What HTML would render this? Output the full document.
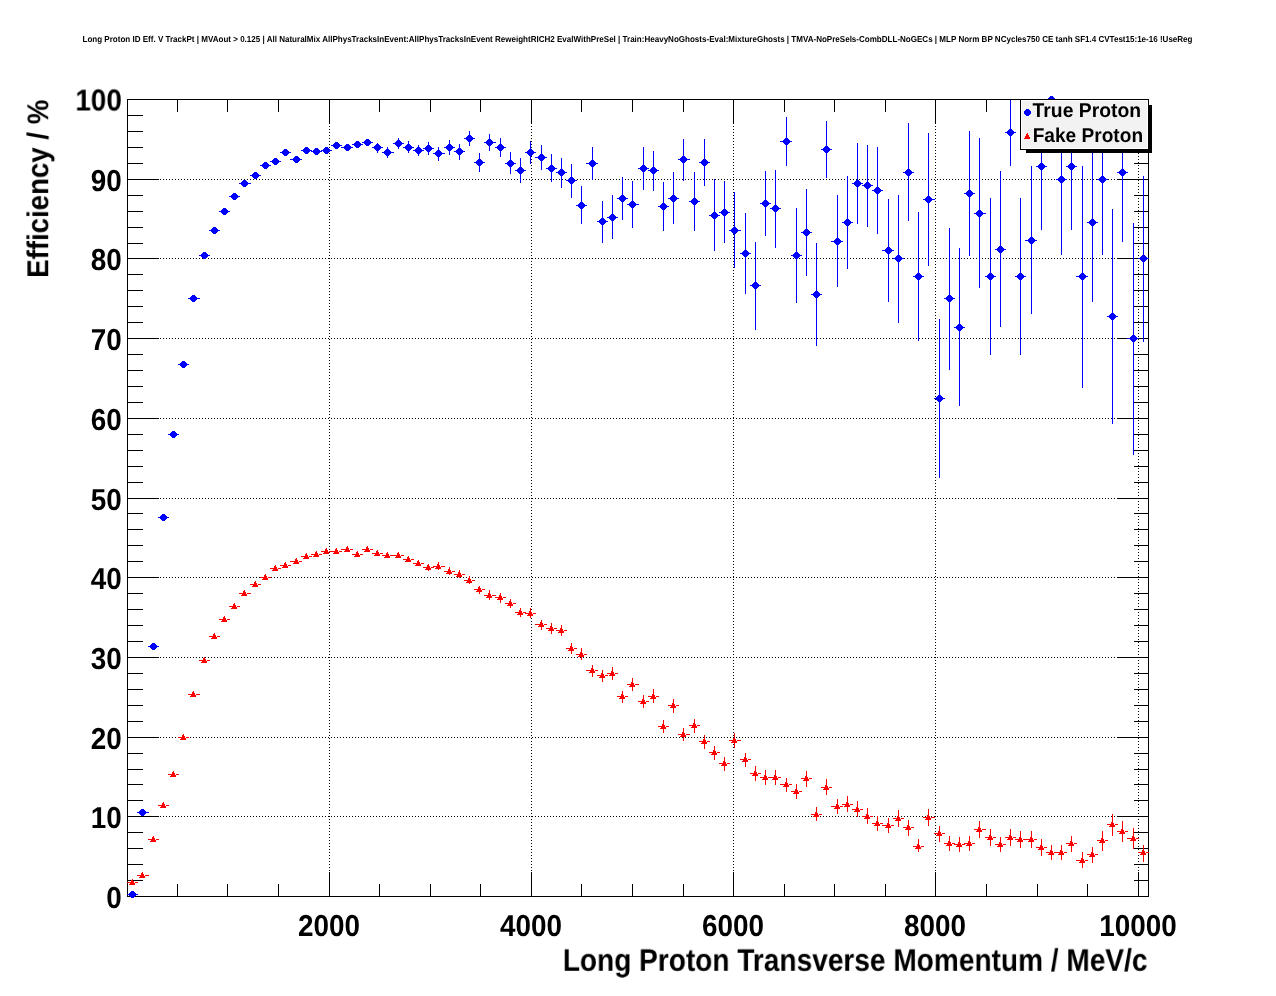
<!DOCTYPE html>
<html><head><meta charset="utf-8"><title>Long Proton ID Eff. V TrackPt</title>
<style>html,body{margin:0;padding:0;background:#fff}svg{display:block;will-change:transform}</style></head>
<body><svg width="1276" height="996" viewBox="0 0 1276 996">
<g shape-rendering="crispEdges" fill="none" stroke-width="1">
<path d="M130 816.5H1148.5M130 737.5H1148.5M130 657.5H1148.5M130 577.5H1148.5M130 498.5H1148.5M130 418.5H1148.5M130 338.5H1148.5M130 258.5H1148.5M130 179.5H1148.5M329.5 102V896.5M531.5 102V896.5M733.5 102V896.5M935.5 102V896.5M1138.5 102V896.5" stroke="#000" stroke-dasharray="1 2"/>
<path d="M127.5 880.5h15M1148.5 880.5h-15M127.5 864.5h15M1148.5 864.5h-15M127.5 848.5h15M1148.5 848.5h-15M127.5 832.5h15M1148.5 832.5h-15M127.5 816.5h31M1148.5 816.5h-31M127.5 800.5h15M1148.5 800.5h-15M127.5 784.5h15M1148.5 784.5h-15M127.5 769.5h15M1148.5 769.5h-15M127.5 753.5h15M1148.5 753.5h-15M127.5 737.5h31M1148.5 737.5h-31M127.5 721.5h15M1148.5 721.5h-15M127.5 705.5h15M1148.5 705.5h-15M127.5 689.5h15M1148.5 689.5h-15M127.5 673.5h15M1148.5 673.5h-15M127.5 657.5h31M1148.5 657.5h-31M127.5 641.5h15M1148.5 641.5h-15M127.5 625.5h15M1148.5 625.5h-15M127.5 609.5h15M1148.5 609.5h-15M127.5 593.5h15M1148.5 593.5h-15M127.5 577.5h31M1148.5 577.5h-31M127.5 561.5h15M1148.5 561.5h-15M127.5 545.5h15M1148.5 545.5h-15M127.5 529.5h15M1148.5 529.5h-15M127.5 513.5h15M1148.5 513.5h-15M127.5 498.5h31M1148.5 498.5h-31M127.5 482.5h15M1148.5 482.5h-15M127.5 466.5h15M1148.5 466.5h-15M127.5 450.5h15M1148.5 450.5h-15M127.5 434.5h15M1148.5 434.5h-15M127.5 418.5h31M1148.5 418.5h-31M127.5 402.5h15M1148.5 402.5h-15M127.5 386.5h15M1148.5 386.5h-15M127.5 370.5h15M1148.5 370.5h-15M127.5 354.5h15M1148.5 354.5h-15M127.5 338.5h31M1148.5 338.5h-31M127.5 322.5h15M1148.5 322.5h-15M127.5 306.5h15M1148.5 306.5h-15M127.5 290.5h15M1148.5 290.5h-15M127.5 274.5h15M1148.5 274.5h-15M127.5 258.5h31M1148.5 258.5h-31M127.5 243.5h15M1148.5 243.5h-15M127.5 227.5h15M1148.5 227.5h-15M127.5 211.5h15M1148.5 211.5h-15M127.5 195.5h15M1148.5 195.5h-15M127.5 179.5h31M1148.5 179.5h-31M127.5 163.5h15M1148.5 163.5h-15M127.5 147.5h15M1148.5 147.5h-15M127.5 131.5h15M1148.5 131.5h-15M127.5 115.5h15M1148.5 115.5h-15M177.5 897.0v-13M177.5 99.5v12M227.5 897.0v-13M227.5 99.5v12M278.5 897.0v-13M278.5 99.5v12M329.5 897.0v-25M329.5 99.5v24M379.5 897.0v-13M379.5 99.5v12M430.5 897.0v-13M430.5 99.5v12M480.5 897.0v-13M480.5 99.5v12M531.5 897.0v-25M531.5 99.5v24M581.5 897.0v-13M581.5 99.5v12M632.5 897.0v-13M632.5 99.5v12M683.5 897.0v-13M683.5 99.5v12M733.5 897.0v-25M733.5 99.5v24M784.5 897.0v-13M784.5 99.5v12M834.5 897.0v-13M834.5 99.5v12M885.5 897.0v-13M885.5 99.5v12M935.5 897.0v-25M935.5 99.5v24M986.5 897.0v-13M986.5 99.5v12M1037.5 897.0v-13M1037.5 99.5v12M1087.5 897.0v-13M1087.5 99.5v12M1138.5 897.0v-25M1138.5 99.5v24" stroke="#000"/>
<rect x="127.5" y="99.5" width="1021.0" height="797.0" stroke="#000"/>
</g>
<g shape-rendering="crispEdges"><path d="M127 894.5h11M137 812.5h12M148 646.5h11M158 517.5h11M168 434.5h11M178 364.5h11M188 298.5h12M199 255.5h11M209 230.5h11M219 211.5h11M229 196.5h11M239 183.5h12M250 175.5h11M260 165.5h11M270 161.5h11M280 152.5h11M290 159.5h12M301 150.5h11M311 151.5h11M321 150.5h11M331 145.5h11M341 147.5h12M352 144.5h11M362 142.5h11M372 147.5h11M377.5 143V153M382 152.5h12M387.5 147V158M393 143.5h11M398.5 138V149M403 147.5h11M408.5 141V153M413 150.5h11M418.5 145V156M423 148.5h11M428.5 142V155M433 153.5h12M438.5 147V161M444 147.5h11M449.5 140V155M454 151.5h11M459.5 144V160M464 138.5h11M469.5 131V146M474 162.5h11M479.5 153V172M484 142.5h12M489.5 134V151M495 147.5h11M500.5 138V157M505 163.5h11M510.5 152V174M515 170.5h11M520.5 158V183M525 152.5h11M530.5 141V164M535 157.5h12M541.5 145V170M546 168.5h11M551.5 154V182M556 172.5h11M561.5 158V188M566 180.5h11M571.5 164V198M576 205.5h11M581.5 186V224M586 163.5h12M592.5 147V180M597 221.5h11M602.5 201V243M607 217.5h11M612.5 195V239M617 198.5h11M622.5 177V220M627 204.5h12M632.5 181V228M638 168.5h11M643.5 147V190M648 170.5h11M653.5 151V191M658 206.5h11M663.5 182V231M668 198.5h11M673.5 172V224M678 159.5h12M683.5 139V181M689 201.5h11M694.5 172V231M699 162.5h11M704.5 139V186M709 215.5h11M714.5 179V251M719 212.5h11M724.5 181V243M729 230.5h12M734.5 192V268M740 253.5h11M745.5 213V294M750 285.5h11M755.5 242V330M760 203.5h11M765.5 171V236M770 208.5h11M775.5 170V248M780 141.5h12M786.5 117V166M791 255.5h11M796.5 208V303M801 232.5h11M806.5 189V276M811 294.5h11M816.5 243V346M821 149.5h11M826.5 121V178M831 241.5h12M837.5 195V287M842 222.5h11M847.5 176V269M852 183.5h11M857.5 143V224M862 185.5h11M867.5 145V227M872 190.5h11M877.5 147V234M882 250.5h12M888.5 199V302M893 258.5h11M898.5 195V323M903 172.5h11M908.5 123V221M913 276.5h11M918.5 212V341M923 199.5h12M928.5 133V266M934 398.5h11M939.5 319V478M944 298.5h11M949.5 228V370M954 327.5h11M959.5 248V406M964 193.5h11M969.5 131V256M974 213.5h12M979.5 138V288M985 276.5h11M990.5 198V355M995 249.5h11M1000.5 171V327M1005 132.5h11M1010.5 100V166M1015 276.5h11M1020.5 198V355M1025 240.5h12M1031.5 166V314M1036 166.5h11M1041.5 103V230M1046 99.5h11M1056 179.5h11M1061.5 104V255M1066 166.5h11M1071.5 103V230M1076 276.5h12M1082.5 166V388M1087 222.5h11M1092.5 143V302M1097 179.5h11M1102.5 104V255M1107 316.5h11M1112.5 209V424M1117 172.5h11M1122.5 103V242M1127 338.5h12M1133.5 223V455M1138 258.5h11M1143.5 176V342" stroke="#0000ff" stroke-width="1" fill="none"/><path d="M131 891h3v1h-3zM130 892h5v1h-5zM129 893h7v1h-7zM129 894h7v1h-7zM129 895h7v1h-7zM130 896h5v1h-5zM131 897h3v1h-3zM141 809h3v1h-3zM140 810h5v1h-5zM139 811h7v1h-7zM139 812h7v1h-7zM139 813h7v1h-7zM140 814h5v1h-5zM141 815h3v1h-3zM152 643h3v1h-3zM151 644h5v1h-5zM150 645h7v1h-7zM150 646h7v1h-7zM150 647h7v1h-7zM151 648h5v1h-5zM152 649h3v1h-3zM162 514h3v1h-3zM161 515h5v1h-5zM160 516h7v1h-7zM160 517h7v1h-7zM160 518h7v1h-7zM161 519h5v1h-5zM162 520h3v1h-3zM172 431h3v1h-3zM171 432h5v1h-5zM170 433h7v1h-7zM170 434h7v1h-7zM170 435h7v1h-7zM171 436h5v1h-5zM172 437h3v1h-3zM182 361h3v1h-3zM181 362h5v1h-5zM180 363h7v1h-7zM180 364h7v1h-7zM180 365h7v1h-7zM181 366h5v1h-5zM182 367h3v1h-3zM192 295h3v1h-3zM191 296h5v1h-5zM190 297h7v1h-7zM190 298h7v1h-7zM190 299h7v1h-7zM191 300h5v1h-5zM192 301h3v1h-3zM203 252h3v1h-3zM202 253h5v1h-5zM201 254h7v1h-7zM201 255h7v1h-7zM201 256h7v1h-7zM202 257h5v1h-5zM203 258h3v1h-3zM213 227h3v1h-3zM212 228h5v1h-5zM211 229h7v1h-7zM211 230h7v1h-7zM211 231h7v1h-7zM212 232h5v1h-5zM213 233h3v1h-3zM223 208h3v1h-3zM222 209h5v1h-5zM221 210h7v1h-7zM221 211h7v1h-7zM221 212h7v1h-7zM222 213h5v1h-5zM223 214h3v1h-3zM233 193h3v1h-3zM232 194h5v1h-5zM231 195h7v1h-7zM231 196h7v1h-7zM231 197h7v1h-7zM232 198h5v1h-5zM233 199h3v1h-3zM243 180h3v1h-3zM242 181h5v1h-5zM241 182h7v1h-7zM241 183h7v1h-7zM241 184h7v1h-7zM242 185h5v1h-5zM243 186h3v1h-3zM254 172h3v1h-3zM253 173h5v1h-5zM252 174h7v1h-7zM252 175h7v1h-7zM252 176h7v1h-7zM253 177h5v1h-5zM254 178h3v1h-3zM264 162h3v1h-3zM263 163h5v1h-5zM262 164h7v1h-7zM262 165h7v1h-7zM262 166h7v1h-7zM263 167h5v1h-5zM264 168h3v1h-3zM274 158h3v1h-3zM273 159h5v1h-5zM272 160h7v1h-7zM272 161h7v1h-7zM272 162h7v1h-7zM273 163h5v1h-5zM274 164h3v1h-3zM284 149h3v1h-3zM283 150h5v1h-5zM282 151h7v1h-7zM282 152h7v1h-7zM282 153h7v1h-7zM283 154h5v1h-5zM284 155h3v1h-3zM295 156h3v1h-3zM294 157h5v1h-5zM293 158h7v1h-7zM293 159h7v1h-7zM293 160h7v1h-7zM294 161h5v1h-5zM295 162h3v1h-3zM305 147h3v1h-3zM304 148h5v1h-5zM303 149h7v1h-7zM303 150h7v1h-7zM303 151h7v1h-7zM304 152h5v1h-5zM305 153h3v1h-3zM315 148h3v1h-3zM314 149h5v1h-5zM313 150h7v1h-7zM313 151h7v1h-7zM313 152h7v1h-7zM314 153h5v1h-5zM315 154h3v1h-3zM325 147h3v1h-3zM324 148h5v1h-5zM323 149h7v1h-7zM323 150h7v1h-7zM323 151h7v1h-7zM324 152h5v1h-5zM325 153h3v1h-3zM335 142h3v1h-3zM334 143h5v1h-5zM333 144h7v1h-7zM333 145h7v1h-7zM333 146h7v1h-7zM334 147h5v1h-5zM335 148h3v1h-3zM346 144h3v1h-3zM345 145h5v1h-5zM344 146h7v1h-7zM344 147h7v1h-7zM344 148h7v1h-7zM345 149h5v1h-5zM346 150h3v1h-3zM356 141h3v1h-3zM355 142h5v1h-5zM354 143h7v1h-7zM354 144h7v1h-7zM354 145h7v1h-7zM355 146h5v1h-5zM356 147h3v1h-3zM366 139h3v1h-3zM365 140h5v1h-5zM364 141h7v1h-7zM364 142h7v1h-7zM364 143h7v1h-7zM365 144h5v1h-5zM366 145h3v1h-3zM376 144h3v1h-3zM375 145h5v1h-5zM374 146h7v1h-7zM374 147h7v1h-7zM374 148h7v1h-7zM375 149h5v1h-5zM376 150h3v1h-3zM386 149h3v1h-3zM385 150h5v1h-5zM384 151h7v1h-7zM384 152h7v1h-7zM384 153h7v1h-7zM385 154h5v1h-5zM386 155h3v1h-3zM397 140h3v1h-3zM396 141h5v1h-5zM395 142h7v1h-7zM395 143h7v1h-7zM395 144h7v1h-7zM396 145h5v1h-5zM397 146h3v1h-3zM407 144h3v1h-3zM406 145h5v1h-5zM405 146h7v1h-7zM405 147h7v1h-7zM405 148h7v1h-7zM406 149h5v1h-5zM407 150h3v1h-3zM417 147h3v1h-3zM416 148h5v1h-5zM415 149h7v1h-7zM415 150h7v1h-7zM415 151h7v1h-7zM416 152h5v1h-5zM417 153h3v1h-3zM427 145h3v1h-3zM426 146h5v1h-5zM425 147h7v1h-7zM425 148h7v1h-7zM425 149h7v1h-7zM426 150h5v1h-5zM427 151h3v1h-3zM437 150h3v1h-3zM436 151h5v1h-5zM435 152h7v1h-7zM435 153h7v1h-7zM435 154h7v1h-7zM436 155h5v1h-5zM437 156h3v1h-3zM448 144h3v1h-3zM447 145h5v1h-5zM446 146h7v1h-7zM446 147h7v1h-7zM446 148h7v1h-7zM447 149h5v1h-5zM448 150h3v1h-3zM458 148h3v1h-3zM457 149h5v1h-5zM456 150h7v1h-7zM456 151h7v1h-7zM456 152h7v1h-7zM457 153h5v1h-5zM458 154h3v1h-3zM468 135h3v1h-3zM467 136h5v1h-5zM466 137h7v1h-7zM466 138h7v1h-7zM466 139h7v1h-7zM467 140h5v1h-5zM468 141h3v1h-3zM478 159h3v1h-3zM477 160h5v1h-5zM476 161h7v1h-7zM476 162h7v1h-7zM476 163h7v1h-7zM477 164h5v1h-5zM478 165h3v1h-3zM488 139h3v1h-3zM487 140h5v1h-5zM486 141h7v1h-7zM486 142h7v1h-7zM486 143h7v1h-7zM487 144h5v1h-5zM488 145h3v1h-3zM499 144h3v1h-3zM498 145h5v1h-5zM497 146h7v1h-7zM497 147h7v1h-7zM497 148h7v1h-7zM498 149h5v1h-5zM499 150h3v1h-3zM509 160h3v1h-3zM508 161h5v1h-5zM507 162h7v1h-7zM507 163h7v1h-7zM507 164h7v1h-7zM508 165h5v1h-5zM509 166h3v1h-3zM519 167h3v1h-3zM518 168h5v1h-5zM517 169h7v1h-7zM517 170h7v1h-7zM517 171h7v1h-7zM518 172h5v1h-5zM519 173h3v1h-3zM529 149h3v1h-3zM528 150h5v1h-5zM527 151h7v1h-7zM527 152h7v1h-7zM527 153h7v1h-7zM528 154h5v1h-5zM529 155h3v1h-3zM540 154h3v1h-3zM539 155h5v1h-5zM538 156h7v1h-7zM538 157h7v1h-7zM538 158h7v1h-7zM539 159h5v1h-5zM540 160h3v1h-3zM550 165h3v1h-3zM549 166h5v1h-5zM548 167h7v1h-7zM548 168h7v1h-7zM548 169h7v1h-7zM549 170h5v1h-5zM550 171h3v1h-3zM560 169h3v1h-3zM559 170h5v1h-5zM558 171h7v1h-7zM558 172h7v1h-7zM558 173h7v1h-7zM559 174h5v1h-5zM560 175h3v1h-3zM570 177h3v1h-3zM569 178h5v1h-5zM568 179h7v1h-7zM568 180h7v1h-7zM568 181h7v1h-7zM569 182h5v1h-5zM570 183h3v1h-3zM580 202h3v1h-3zM579 203h5v1h-5zM578 204h7v1h-7zM578 205h7v1h-7zM578 206h7v1h-7zM579 207h5v1h-5zM580 208h3v1h-3zM591 160h3v1h-3zM590 161h5v1h-5zM589 162h7v1h-7zM589 163h7v1h-7zM589 164h7v1h-7zM590 165h5v1h-5zM591 166h3v1h-3zM601 218h3v1h-3zM600 219h5v1h-5zM599 220h7v1h-7zM599 221h7v1h-7zM599 222h7v1h-7zM600 223h5v1h-5zM601 224h3v1h-3zM611 214h3v1h-3zM610 215h5v1h-5zM609 216h7v1h-7zM609 217h7v1h-7zM609 218h7v1h-7zM610 219h5v1h-5zM611 220h3v1h-3zM621 195h3v1h-3zM620 196h5v1h-5zM619 197h7v1h-7zM619 198h7v1h-7zM619 199h7v1h-7zM620 200h5v1h-5zM621 201h3v1h-3zM631 201h3v1h-3zM630 202h5v1h-5zM629 203h7v1h-7zM629 204h7v1h-7zM629 205h7v1h-7zM630 206h5v1h-5zM631 207h3v1h-3zM642 165h3v1h-3zM641 166h5v1h-5zM640 167h7v1h-7zM640 168h7v1h-7zM640 169h7v1h-7zM641 170h5v1h-5zM642 171h3v1h-3zM652 167h3v1h-3zM651 168h5v1h-5zM650 169h7v1h-7zM650 170h7v1h-7zM650 171h7v1h-7zM651 172h5v1h-5zM652 173h3v1h-3zM662 203h3v1h-3zM661 204h5v1h-5zM660 205h7v1h-7zM660 206h7v1h-7zM660 207h7v1h-7zM661 208h5v1h-5zM662 209h3v1h-3zM672 195h3v1h-3zM671 196h5v1h-5zM670 197h7v1h-7zM670 198h7v1h-7zM670 199h7v1h-7zM671 200h5v1h-5zM672 201h3v1h-3zM682 156h3v1h-3zM681 157h5v1h-5zM680 158h7v1h-7zM680 159h7v1h-7zM680 160h7v1h-7zM681 161h5v1h-5zM682 162h3v1h-3zM693 198h3v1h-3zM692 199h5v1h-5zM691 200h7v1h-7zM691 201h7v1h-7zM691 202h7v1h-7zM692 203h5v1h-5zM693 204h3v1h-3zM703 159h3v1h-3zM702 160h5v1h-5zM701 161h7v1h-7zM701 162h7v1h-7zM701 163h7v1h-7zM702 164h5v1h-5zM703 165h3v1h-3zM713 212h3v1h-3zM712 213h5v1h-5zM711 214h7v1h-7zM711 215h7v1h-7zM711 216h7v1h-7zM712 217h5v1h-5zM713 218h3v1h-3zM723 209h3v1h-3zM722 210h5v1h-5zM721 211h7v1h-7zM721 212h7v1h-7zM721 213h7v1h-7zM722 214h5v1h-5zM723 215h3v1h-3zM733 227h3v1h-3zM732 228h5v1h-5zM731 229h7v1h-7zM731 230h7v1h-7zM731 231h7v1h-7zM732 232h5v1h-5zM733 233h3v1h-3zM744 250h3v1h-3zM743 251h5v1h-5zM742 252h7v1h-7zM742 253h7v1h-7zM742 254h7v1h-7zM743 255h5v1h-5zM744 256h3v1h-3zM754 282h3v1h-3zM753 283h5v1h-5zM752 284h7v1h-7zM752 285h7v1h-7zM752 286h7v1h-7zM753 287h5v1h-5zM754 288h3v1h-3zM764 200h3v1h-3zM763 201h5v1h-5zM762 202h7v1h-7zM762 203h7v1h-7zM762 204h7v1h-7zM763 205h5v1h-5zM764 206h3v1h-3zM774 205h3v1h-3zM773 206h5v1h-5zM772 207h7v1h-7zM772 208h7v1h-7zM772 209h7v1h-7zM773 210h5v1h-5zM774 211h3v1h-3zM785 138h3v1h-3zM784 139h5v1h-5zM783 140h7v1h-7zM783 141h7v1h-7zM783 142h7v1h-7zM784 143h5v1h-5zM785 144h3v1h-3zM795 252h3v1h-3zM794 253h5v1h-5zM793 254h7v1h-7zM793 255h7v1h-7zM793 256h7v1h-7zM794 257h5v1h-5zM795 258h3v1h-3zM805 229h3v1h-3zM804 230h5v1h-5zM803 231h7v1h-7zM803 232h7v1h-7zM803 233h7v1h-7zM804 234h5v1h-5zM805 235h3v1h-3zM815 291h3v1h-3zM814 292h5v1h-5zM813 293h7v1h-7zM813 294h7v1h-7zM813 295h7v1h-7zM814 296h5v1h-5zM815 297h3v1h-3zM825 146h3v1h-3zM824 147h5v1h-5zM823 148h7v1h-7zM823 149h7v1h-7zM823 150h7v1h-7zM824 151h5v1h-5zM825 152h3v1h-3zM836 238h3v1h-3zM835 239h5v1h-5zM834 240h7v1h-7zM834 241h7v1h-7zM834 242h7v1h-7zM835 243h5v1h-5zM836 244h3v1h-3zM846 219h3v1h-3zM845 220h5v1h-5zM844 221h7v1h-7zM844 222h7v1h-7zM844 223h7v1h-7zM845 224h5v1h-5zM846 225h3v1h-3zM856 180h3v1h-3zM855 181h5v1h-5zM854 182h7v1h-7zM854 183h7v1h-7zM854 184h7v1h-7zM855 185h5v1h-5zM856 186h3v1h-3zM866 182h3v1h-3zM865 183h5v1h-5zM864 184h7v1h-7zM864 185h7v1h-7zM864 186h7v1h-7zM865 187h5v1h-5zM866 188h3v1h-3zM876 187h3v1h-3zM875 188h5v1h-5zM874 189h7v1h-7zM874 190h7v1h-7zM874 191h7v1h-7zM875 192h5v1h-5zM876 193h3v1h-3zM887 247h3v1h-3zM886 248h5v1h-5zM885 249h7v1h-7zM885 250h7v1h-7zM885 251h7v1h-7zM886 252h5v1h-5zM887 253h3v1h-3zM897 255h3v1h-3zM896 256h5v1h-5zM895 257h7v1h-7zM895 258h7v1h-7zM895 259h7v1h-7zM896 260h5v1h-5zM897 261h3v1h-3zM907 169h3v1h-3zM906 170h5v1h-5zM905 171h7v1h-7zM905 172h7v1h-7zM905 173h7v1h-7zM906 174h5v1h-5zM907 175h3v1h-3zM917 273h3v1h-3zM916 274h5v1h-5zM915 275h7v1h-7zM915 276h7v1h-7zM915 277h7v1h-7zM916 278h5v1h-5zM917 279h3v1h-3zM927 196h3v1h-3zM926 197h5v1h-5zM925 198h7v1h-7zM925 199h7v1h-7zM925 200h7v1h-7zM926 201h5v1h-5zM927 202h3v1h-3zM938 395h3v1h-3zM937 396h5v1h-5zM936 397h7v1h-7zM936 398h7v1h-7zM936 399h7v1h-7zM937 400h5v1h-5zM938 401h3v1h-3zM948 295h3v1h-3zM947 296h5v1h-5zM946 297h7v1h-7zM946 298h7v1h-7zM946 299h7v1h-7zM947 300h5v1h-5zM948 301h3v1h-3zM958 324h3v1h-3zM957 325h5v1h-5zM956 326h7v1h-7zM956 327h7v1h-7zM956 328h7v1h-7zM957 329h5v1h-5zM958 330h3v1h-3zM968 190h3v1h-3zM967 191h5v1h-5zM966 192h7v1h-7zM966 193h7v1h-7zM966 194h7v1h-7zM967 195h5v1h-5zM968 196h3v1h-3zM978 210h3v1h-3zM977 211h5v1h-5zM976 212h7v1h-7zM976 213h7v1h-7zM976 214h7v1h-7zM977 215h5v1h-5zM978 216h3v1h-3zM989 273h3v1h-3zM988 274h5v1h-5zM987 275h7v1h-7zM987 276h7v1h-7zM987 277h7v1h-7zM988 278h5v1h-5zM989 279h3v1h-3zM999 246h3v1h-3zM998 247h5v1h-5zM997 248h7v1h-7zM997 249h7v1h-7zM997 250h7v1h-7zM998 251h5v1h-5zM999 252h3v1h-3zM1009 129h3v1h-3zM1008 130h5v1h-5zM1007 131h7v1h-7zM1007 132h7v1h-7zM1007 133h7v1h-7zM1008 134h5v1h-5zM1009 135h3v1h-3zM1019 273h3v1h-3zM1018 274h5v1h-5zM1017 275h7v1h-7zM1017 276h7v1h-7zM1017 277h7v1h-7zM1018 278h5v1h-5zM1019 279h3v1h-3zM1030 237h3v1h-3zM1029 238h5v1h-5zM1028 239h7v1h-7zM1028 240h7v1h-7zM1028 241h7v1h-7zM1029 242h5v1h-5zM1030 243h3v1h-3zM1040 163h3v1h-3zM1039 164h5v1h-5zM1038 165h7v1h-7zM1038 166h7v1h-7zM1038 167h7v1h-7zM1039 168h5v1h-5zM1040 169h3v1h-3zM1050 96h3v1h-3zM1049 97h5v1h-5zM1048 98h7v1h-7zM1048 99h7v1h-7zM1048 100h7v1h-7zM1049 101h5v1h-5zM1050 102h3v1h-3zM1060 176h3v1h-3zM1059 177h5v1h-5zM1058 178h7v1h-7zM1058 179h7v1h-7zM1058 180h7v1h-7zM1059 181h5v1h-5zM1060 182h3v1h-3zM1070 163h3v1h-3zM1069 164h5v1h-5zM1068 165h7v1h-7zM1068 166h7v1h-7zM1068 167h7v1h-7zM1069 168h5v1h-5zM1070 169h3v1h-3zM1081 273h3v1h-3zM1080 274h5v1h-5zM1079 275h7v1h-7zM1079 276h7v1h-7zM1079 277h7v1h-7zM1080 278h5v1h-5zM1081 279h3v1h-3zM1091 219h3v1h-3zM1090 220h5v1h-5zM1089 221h7v1h-7zM1089 222h7v1h-7zM1089 223h7v1h-7zM1090 224h5v1h-5zM1091 225h3v1h-3zM1101 176h3v1h-3zM1100 177h5v1h-5zM1099 178h7v1h-7zM1099 179h7v1h-7zM1099 180h7v1h-7zM1100 181h5v1h-5zM1101 182h3v1h-3zM1111 313h3v1h-3zM1110 314h5v1h-5zM1109 315h7v1h-7zM1109 316h7v1h-7zM1109 317h7v1h-7zM1110 318h5v1h-5zM1111 319h3v1h-3zM1121 169h3v1h-3zM1120 170h5v1h-5zM1119 171h7v1h-7zM1119 172h7v1h-7zM1119 173h7v1h-7zM1120 174h5v1h-5zM1121 175h3v1h-3zM1132 335h3v1h-3zM1131 336h5v1h-5zM1130 337h7v1h-7zM1130 338h7v1h-7zM1130 339h7v1h-7zM1131 340h5v1h-5zM1132 341h3v1h-3zM1142 255h3v1h-3zM1141 256h5v1h-5zM1140 257h7v1h-7zM1140 258h7v1h-7zM1140 259h7v1h-7zM1141 260h5v1h-5zM1142 261h3v1h-3z" fill="#0000ff"/></g>
<g shape-rendering="crispEdges"><path d="M127 882.5H134M135 882.5H138M137 875.5H144M145 875.5H149M148 839.5H155M156 839.5H159M158 805.5H165M166 805.5H169M168 774.5H175M176 774.5H179M178 737.5H185M186 737.5H189M188 694.5H195M196 694.5H200M199 660.5H206M207 660.5H210M209 636.5H216M217 636.5H220M219 619.5H226M227 619.5H230M229 606.5H236M237 606.5H240M239 593.5H246M247 593.5H251M250 584.5H257M258 584.5H261M260 577.5H267M268 577.5H271M270 568.5H277M278 568.5H281M280 565.5H287M288 565.5H291M290 561.5H298M299 561.5H302M301 556.5H308M309 556.5H312M311 554.5H318M319 554.5H322M321 551.5H328M329 551.5H332M331 551.5H338M339 551.5H342M341 549.5H349M350 549.5H353M352 554.5H359M360 554.5H363M362 549.5H369M370 549.5H373M372 553.5H379M380 553.5H383M382 555.5H389M390 555.5H394M393 555.5H400M401 555.5H404M403 559.5H410M411 559.5H414M413 563.5H420M421 563.5H424M423 567.5H430M431 567.5H434M428.5 564V571M433 566.5H440M441 566.5H445M438.5 562V570M444 571.5H451M452 571.5H455M449.5 567V575M454 574.5H461M462 574.5H465M459.5 570V578M464 580.5H471M472 580.5H475M469.5 576V584M474 589.5H481M482 589.5H485M479.5 586V594M484 595.5H491M492 595.5H496M489.5 590V600M495 597.5H502M503 597.5H506M500.5 593V603M505 603.5H512M513 603.5H516M510.5 599V608M515 612.5H522M523 612.5H526M520.5 608V617M525 613.5H532M533 613.5H536M530.5 608V618M535 624.5H543M544 624.5H547M541.5 620V630M546 628.5H553M554 628.5H557M551.5 623V634M556 630.5H563M564 630.5H567M561.5 625V636M566 648.5H573M574 648.5H577M571.5 643V654M576 654.5H583M584 654.5H587M581.5 648V660M586 670.5H594M595 670.5H598M592.5 665V677M597 675.5H604M605 675.5H608M602.5 670V682M607 673.5H614M615 673.5H618M612.5 667V680M617 696.5H624M625 696.5H628M622.5 691V703M627 684.5H634M635 684.5H639M632.5 678V691M638 701.5H645M646 701.5H649M643.5 695V708M648 696.5H655M656 696.5H659M653.5 689V703M658 726.5H665M666 726.5H669M663.5 720V733M668 705.5H675M676 705.5H679M673.5 699V713M678 734.5H685M686 734.5H690M683.5 728V741M689 725.5H696M697 725.5H700M694.5 719V733M699 741.5H706M707 741.5H710M704.5 735V749M709 752.5H716M717 752.5H720M714.5 746V760M719 763.5H726M727 763.5H730M724.5 757V771M729 740.5H736M737 740.5H741M734.5 733V748M740 759.5H747M748 759.5H751M745.5 753V767M750 773.5H757M758 773.5H761M755.5 766V781M760 777.5H767M768 777.5H771M765.5 770V785M770 777.5H777M778 777.5H781M775.5 770V785M780 784.5H788M789 784.5H792M786.5 778V792M791 791.5H798M799 791.5H802M796.5 784V799M801 778.5H808M809 778.5H812M806.5 771V787M811 814.5H818M819 814.5H822M816.5 807V821M821 787.5H828M829 787.5H832M826.5 779V795M831 806.5H839M840 806.5H843M837.5 799V814M842 804.5H849M850 804.5H853M847.5 796V812M852 809.5H859M860 809.5H863M857.5 801V817M862 816.5H869M870 816.5H873M867.5 808V824M872 823.5H879M880 823.5H883M877.5 816V831M882 825.5H890M891 825.5H894M888.5 818V833M893 818.5H900M901 818.5H904M898.5 810V827M903 827.5H910M911 827.5H914M908.5 820V836M913 846.5H920M921 846.5H924M918.5 839V852M923 817.5H930M931 817.5H935M928.5 809V826M934 833.5H941M942 833.5H945M939.5 826V842M944 843.5H951M952 843.5H955M949.5 836V851M954 844.5H961M962 844.5H965M959.5 837V852M964 843.5H971M972 843.5H975M969.5 836V851M974 829.5H981M982 829.5H986M979.5 821V838M985 837.5H992M993 837.5H996M990.5 829V846M995 844.5H1002M1003 844.5H1006M1000.5 837V852M1005 837.5H1012M1013 837.5H1016M1010.5 829V846M1015 839.5H1022M1023 839.5H1026M1020.5 831V848M1025 839.5H1033M1034 839.5H1037M1031.5 831V848M1036 847.5H1043M1044 847.5H1047M1041.5 839V856M1046 852.5H1053M1054 852.5H1057M1051.5 845V860M1056 852.5H1063M1064 852.5H1067M1061.5 845V860M1066 843.5H1073M1074 843.5H1077M1071.5 836V852M1076 860.5H1084M1085 860.5H1088M1082.5 852V868M1087 854.5H1094M1095 854.5H1098M1092.5 847V863M1097 840.5H1104M1105 840.5H1108M1102.5 831V851M1107 824.5H1114M1115 824.5H1118M1112.5 814V836M1117 831.5H1124M1125 831.5H1128M1122.5 821V842M1127 838.5H1135M1136 838.5H1139M1133.5 828V849M1138 852.5H1145M1146 852.5H1149M1143.5 845V862" stroke="#ff0000" stroke-width="1" fill="none"/><path d="M132 879h1v1h-1zM131 880h2v1h-2zM131 881h3v1h-3zM130 882h4v1h-4zM130 883h5v1h-5zM129 884h6v1h-6zM142 872h1v1h-1zM141 873h2v1h-2zM141 874h3v1h-3zM140 875h4v1h-4zM140 876h5v1h-5zM139 877h6v1h-6zM153 836h1v1h-1zM152 837h2v1h-2zM152 838h3v1h-3zM151 839h4v1h-4zM151 840h5v1h-5zM150 841h6v1h-6zM163 802h1v1h-1zM162 803h2v1h-2zM162 804h3v1h-3zM161 805h4v1h-4zM161 806h5v1h-5zM160 807h6v1h-6zM173 771h1v1h-1zM172 772h2v1h-2zM172 773h3v1h-3zM171 774h4v1h-4zM171 775h5v1h-5zM170 776h6v1h-6zM183 734h1v1h-1zM182 735h2v1h-2zM182 736h3v1h-3zM181 737h4v1h-4zM181 738h5v1h-5zM180 739h6v1h-6zM193 691h1v1h-1zM192 692h2v1h-2zM192 693h3v1h-3zM191 694h4v1h-4zM191 695h5v1h-5zM190 696h6v1h-6zM204 657h1v1h-1zM203 658h2v1h-2zM203 659h3v1h-3zM202 660h4v1h-4zM202 661h5v1h-5zM201 662h6v1h-6zM214 633h1v1h-1zM213 634h2v1h-2zM213 635h3v1h-3zM212 636h4v1h-4zM212 637h5v1h-5zM211 638h6v1h-6zM224 616h1v1h-1zM223 617h2v1h-2zM223 618h3v1h-3zM222 619h4v1h-4zM222 620h5v1h-5zM221 621h6v1h-6zM234 603h1v1h-1zM233 604h2v1h-2zM233 605h3v1h-3zM232 606h4v1h-4zM232 607h5v1h-5zM231 608h6v1h-6zM244 590h1v1h-1zM243 591h2v1h-2zM243 592h3v1h-3zM242 593h4v1h-4zM242 594h5v1h-5zM241 595h6v1h-6zM255 581h1v1h-1zM254 582h2v1h-2zM254 583h3v1h-3zM253 584h4v1h-4zM253 585h5v1h-5zM252 586h6v1h-6zM265 574h1v1h-1zM264 575h2v1h-2zM264 576h3v1h-3zM263 577h4v1h-4zM263 578h5v1h-5zM262 579h6v1h-6zM275 565h1v1h-1zM274 566h2v1h-2zM274 567h3v1h-3zM273 568h4v1h-4zM273 569h5v1h-5zM272 570h6v1h-6zM285 562h1v1h-1zM284 563h2v1h-2zM284 564h3v1h-3zM283 565h4v1h-4zM283 566h5v1h-5zM282 567h6v1h-6zM296 558h1v1h-1zM295 559h2v1h-2zM295 560h3v1h-3zM294 561h4v1h-4zM294 562h5v1h-5zM293 563h6v1h-6zM306 553h1v1h-1zM305 554h2v1h-2zM305 555h3v1h-3zM304 556h4v1h-4zM304 557h5v1h-5zM303 558h6v1h-6zM316 551h1v1h-1zM315 552h2v1h-2zM315 553h3v1h-3zM314 554h4v1h-4zM314 555h5v1h-5zM313 556h6v1h-6zM326 548h1v1h-1zM325 549h2v1h-2zM325 550h3v1h-3zM324 551h4v1h-4zM324 552h5v1h-5zM323 553h6v1h-6zM336 548h1v1h-1zM335 549h2v1h-2zM335 550h3v1h-3zM334 551h4v1h-4zM334 552h5v1h-5zM333 553h6v1h-6zM347 546h1v1h-1zM346 547h2v1h-2zM346 548h3v1h-3zM345 549h4v1h-4zM345 550h5v1h-5zM344 551h6v1h-6zM357 551h1v1h-1zM356 552h2v1h-2zM356 553h3v1h-3zM355 554h4v1h-4zM355 555h5v1h-5zM354 556h6v1h-6zM367 546h1v1h-1zM366 547h2v1h-2zM366 548h3v1h-3zM365 549h4v1h-4zM365 550h5v1h-5zM364 551h6v1h-6zM377 550h1v1h-1zM376 551h2v1h-2zM376 552h3v1h-3zM375 553h4v1h-4zM375 554h5v1h-5zM374 555h6v1h-6zM387 552h1v1h-1zM386 553h2v1h-2zM386 554h3v1h-3zM385 555h4v1h-4zM385 556h5v1h-5zM384 557h6v1h-6zM398 552h1v1h-1zM397 553h2v1h-2zM397 554h3v1h-3zM396 555h4v1h-4zM396 556h5v1h-5zM395 557h6v1h-6zM408 556h1v1h-1zM407 557h2v1h-2zM407 558h3v1h-3zM406 559h4v1h-4zM406 560h5v1h-5zM405 561h6v1h-6zM418 560h1v1h-1zM417 561h2v1h-2zM417 562h3v1h-3zM416 563h4v1h-4zM416 564h5v1h-5zM415 565h6v1h-6zM428 564h1v1h-1zM427 565h2v1h-2zM427 566h3v1h-3zM426 567h4v1h-4zM426 568h5v1h-5zM425 569h6v1h-6zM438 563h1v1h-1zM437 564h2v1h-2zM437 565h3v1h-3zM436 566h4v1h-4zM436 567h5v1h-5zM435 568h6v1h-6zM449 568h1v1h-1zM448 569h2v1h-2zM448 570h3v1h-3zM447 571h4v1h-4zM447 572h5v1h-5zM446 573h6v1h-6zM459 571h1v1h-1zM458 572h2v1h-2zM458 573h3v1h-3zM457 574h4v1h-4zM457 575h5v1h-5zM456 576h6v1h-6zM469 577h1v1h-1zM468 578h2v1h-2zM468 579h3v1h-3zM467 580h4v1h-4zM467 581h5v1h-5zM466 582h6v1h-6zM479 586h1v1h-1zM478 587h2v1h-2zM478 588h3v1h-3zM477 589h4v1h-4zM477 590h5v1h-5zM476 591h6v1h-6zM489 592h1v1h-1zM488 593h2v1h-2zM488 594h3v1h-3zM487 595h4v1h-4zM487 596h5v1h-5zM486 597h6v1h-6zM500 594h1v1h-1zM499 595h2v1h-2zM499 596h3v1h-3zM498 597h4v1h-4zM498 598h5v1h-5zM497 599h6v1h-6zM510 600h1v1h-1zM509 601h2v1h-2zM509 602h3v1h-3zM508 603h4v1h-4zM508 604h5v1h-5zM507 605h6v1h-6zM520 609h1v1h-1zM519 610h2v1h-2zM519 611h3v1h-3zM518 612h4v1h-4zM518 613h5v1h-5zM517 614h6v1h-6zM530 610h1v1h-1zM529 611h2v1h-2zM529 612h3v1h-3zM528 613h4v1h-4zM528 614h5v1h-5zM527 615h6v1h-6zM541 621h1v1h-1zM540 622h2v1h-2zM540 623h3v1h-3zM539 624h4v1h-4zM539 625h5v1h-5zM538 626h6v1h-6zM551 625h1v1h-1zM550 626h2v1h-2zM550 627h3v1h-3zM549 628h4v1h-4zM549 629h5v1h-5zM548 630h6v1h-6zM561 627h1v1h-1zM560 628h2v1h-2zM560 629h3v1h-3zM559 630h4v1h-4zM559 631h5v1h-5zM558 632h6v1h-6zM571 645h1v1h-1zM570 646h2v1h-2zM570 647h3v1h-3zM569 648h4v1h-4zM569 649h5v1h-5zM568 650h6v1h-6zM581 651h1v1h-1zM580 652h2v1h-2zM580 653h3v1h-3zM579 654h4v1h-4zM579 655h5v1h-5zM578 656h6v1h-6zM592 667h1v1h-1zM591 668h2v1h-2zM591 669h3v1h-3zM590 670h4v1h-4zM590 671h5v1h-5zM589 672h6v1h-6zM602 672h1v1h-1zM601 673h2v1h-2zM601 674h3v1h-3zM600 675h4v1h-4zM600 676h5v1h-5zM599 677h6v1h-6zM612 670h1v1h-1zM611 671h2v1h-2zM611 672h3v1h-3zM610 673h4v1h-4zM610 674h5v1h-5zM609 675h6v1h-6zM622 693h1v1h-1zM621 694h2v1h-2zM621 695h3v1h-3zM620 696h4v1h-4zM620 697h5v1h-5zM619 698h6v1h-6zM632 681h1v1h-1zM631 682h2v1h-2zM631 683h3v1h-3zM630 684h4v1h-4zM630 685h5v1h-5zM629 686h6v1h-6zM643 698h1v1h-1zM642 699h2v1h-2zM642 700h3v1h-3zM641 701h4v1h-4zM641 702h5v1h-5zM640 703h6v1h-6zM653 693h1v1h-1zM652 694h2v1h-2zM652 695h3v1h-3zM651 696h4v1h-4zM651 697h5v1h-5zM650 698h6v1h-6zM663 723h1v1h-1zM662 724h2v1h-2zM662 725h3v1h-3zM661 726h4v1h-4zM661 727h5v1h-5zM660 728h6v1h-6zM673 702h1v1h-1zM672 703h2v1h-2zM672 704h3v1h-3zM671 705h4v1h-4zM671 706h5v1h-5zM670 707h6v1h-6zM683 731h1v1h-1zM682 732h2v1h-2zM682 733h3v1h-3zM681 734h4v1h-4zM681 735h5v1h-5zM680 736h6v1h-6zM694 722h1v1h-1zM693 723h2v1h-2zM693 724h3v1h-3zM692 725h4v1h-4zM692 726h5v1h-5zM691 727h6v1h-6zM704 738h1v1h-1zM703 739h2v1h-2zM703 740h3v1h-3zM702 741h4v1h-4zM702 742h5v1h-5zM701 743h6v1h-6zM714 749h1v1h-1zM713 750h2v1h-2zM713 751h3v1h-3zM712 752h4v1h-4zM712 753h5v1h-5zM711 754h6v1h-6zM724 760h1v1h-1zM723 761h2v1h-2zM723 762h3v1h-3zM722 763h4v1h-4zM722 764h5v1h-5zM721 765h6v1h-6zM734 737h1v1h-1zM733 738h2v1h-2zM733 739h3v1h-3zM732 740h4v1h-4zM732 741h5v1h-5zM731 742h6v1h-6zM745 756h1v1h-1zM744 757h2v1h-2zM744 758h3v1h-3zM743 759h4v1h-4zM743 760h5v1h-5zM742 761h6v1h-6zM755 770h1v1h-1zM754 771h2v1h-2zM754 772h3v1h-3zM753 773h4v1h-4zM753 774h5v1h-5zM752 775h6v1h-6zM765 774h1v1h-1zM764 775h2v1h-2zM764 776h3v1h-3zM763 777h4v1h-4zM763 778h5v1h-5zM762 779h6v1h-6zM775 774h1v1h-1zM774 775h2v1h-2zM774 776h3v1h-3zM773 777h4v1h-4zM773 778h5v1h-5zM772 779h6v1h-6zM786 781h1v1h-1zM785 782h2v1h-2zM785 783h3v1h-3zM784 784h4v1h-4zM784 785h5v1h-5zM783 786h6v1h-6zM796 788h1v1h-1zM795 789h2v1h-2zM795 790h3v1h-3zM794 791h4v1h-4zM794 792h5v1h-5zM793 793h6v1h-6zM806 775h1v1h-1zM805 776h2v1h-2zM805 777h3v1h-3zM804 778h4v1h-4zM804 779h5v1h-5zM803 780h6v1h-6zM816 811h1v1h-1zM815 812h2v1h-2zM815 813h3v1h-3zM814 814h4v1h-4zM814 815h5v1h-5zM813 816h6v1h-6zM826 784h1v1h-1zM825 785h2v1h-2zM825 786h3v1h-3zM824 787h4v1h-4zM824 788h5v1h-5zM823 789h6v1h-6zM837 803h1v1h-1zM836 804h2v1h-2zM836 805h3v1h-3zM835 806h4v1h-4zM835 807h5v1h-5zM834 808h6v1h-6zM847 801h1v1h-1zM846 802h2v1h-2zM846 803h3v1h-3zM845 804h4v1h-4zM845 805h5v1h-5zM844 806h6v1h-6zM857 806h1v1h-1zM856 807h2v1h-2zM856 808h3v1h-3zM855 809h4v1h-4zM855 810h5v1h-5zM854 811h6v1h-6zM867 813h1v1h-1zM866 814h2v1h-2zM866 815h3v1h-3zM865 816h4v1h-4zM865 817h5v1h-5zM864 818h6v1h-6zM877 820h1v1h-1zM876 821h2v1h-2zM876 822h3v1h-3zM875 823h4v1h-4zM875 824h5v1h-5zM874 825h6v1h-6zM888 822h1v1h-1zM887 823h2v1h-2zM887 824h3v1h-3zM886 825h4v1h-4zM886 826h5v1h-5zM885 827h6v1h-6zM898 815h1v1h-1zM897 816h2v1h-2zM897 817h3v1h-3zM896 818h4v1h-4zM896 819h5v1h-5zM895 820h6v1h-6zM908 824h1v1h-1zM907 825h2v1h-2zM907 826h3v1h-3zM906 827h4v1h-4zM906 828h5v1h-5zM905 829h6v1h-6zM918 843h1v1h-1zM917 844h2v1h-2zM917 845h3v1h-3zM916 846h4v1h-4zM916 847h5v1h-5zM915 848h6v1h-6zM928 814h1v1h-1zM927 815h2v1h-2zM927 816h3v1h-3zM926 817h4v1h-4zM926 818h5v1h-5zM925 819h6v1h-6zM939 830h1v1h-1zM938 831h2v1h-2zM938 832h3v1h-3zM937 833h4v1h-4zM937 834h5v1h-5zM936 835h6v1h-6zM949 840h1v1h-1zM948 841h2v1h-2zM948 842h3v1h-3zM947 843h4v1h-4zM947 844h5v1h-5zM946 845h6v1h-6zM959 841h1v1h-1zM958 842h2v1h-2zM958 843h3v1h-3zM957 844h4v1h-4zM957 845h5v1h-5zM956 846h6v1h-6zM969 840h1v1h-1zM968 841h2v1h-2zM968 842h3v1h-3zM967 843h4v1h-4zM967 844h5v1h-5zM966 845h6v1h-6zM979 826h1v1h-1zM978 827h2v1h-2zM978 828h3v1h-3zM977 829h4v1h-4zM977 830h5v1h-5zM976 831h6v1h-6zM990 834h1v1h-1zM989 835h2v1h-2zM989 836h3v1h-3zM988 837h4v1h-4zM988 838h5v1h-5zM987 839h6v1h-6zM1000 841h1v1h-1zM999 842h2v1h-2zM999 843h3v1h-3zM998 844h4v1h-4zM998 845h5v1h-5zM997 846h6v1h-6zM1010 834h1v1h-1zM1009 835h2v1h-2zM1009 836h3v1h-3zM1008 837h4v1h-4zM1008 838h5v1h-5zM1007 839h6v1h-6zM1020 836h1v1h-1zM1019 837h2v1h-2zM1019 838h3v1h-3zM1018 839h4v1h-4zM1018 840h5v1h-5zM1017 841h6v1h-6zM1031 836h1v1h-1zM1030 837h2v1h-2zM1030 838h3v1h-3zM1029 839h4v1h-4zM1029 840h5v1h-5zM1028 841h6v1h-6zM1041 844h1v1h-1zM1040 845h2v1h-2zM1040 846h3v1h-3zM1039 847h4v1h-4zM1039 848h5v1h-5zM1038 849h6v1h-6zM1051 849h1v1h-1zM1050 850h2v1h-2zM1050 851h3v1h-3zM1049 852h4v1h-4zM1049 853h5v1h-5zM1048 854h6v1h-6zM1061 849h1v1h-1zM1060 850h2v1h-2zM1060 851h3v1h-3zM1059 852h4v1h-4zM1059 853h5v1h-5zM1058 854h6v1h-6zM1071 840h1v1h-1zM1070 841h2v1h-2zM1070 842h3v1h-3zM1069 843h4v1h-4zM1069 844h5v1h-5zM1068 845h6v1h-6zM1082 857h1v1h-1zM1081 858h2v1h-2zM1081 859h3v1h-3zM1080 860h4v1h-4zM1080 861h5v1h-5zM1079 862h6v1h-6zM1092 851h1v1h-1zM1091 852h2v1h-2zM1091 853h3v1h-3zM1090 854h4v1h-4zM1090 855h5v1h-5zM1089 856h6v1h-6zM1102 837h1v1h-1zM1101 838h2v1h-2zM1101 839h3v1h-3zM1100 840h4v1h-4zM1100 841h5v1h-5zM1099 842h6v1h-6zM1112 821h1v1h-1zM1111 822h2v1h-2zM1111 823h3v1h-3zM1110 824h4v1h-4zM1110 825h5v1h-5zM1109 826h6v1h-6zM1122 828h1v1h-1zM1121 829h2v1h-2zM1121 830h3v1h-3zM1120 831h4v1h-4zM1120 832h5v1h-5zM1119 833h6v1h-6zM1133 835h1v1h-1zM1132 836h2v1h-2zM1132 837h3v1h-3zM1131 838h4v1h-4zM1131 839h5v1h-5zM1130 840h6v1h-6zM1143 849h1v1h-1zM1142 850h2v1h-2zM1142 851h3v1h-3zM1141 852h4v1h-4zM1141 853h5v1h-5zM1140 854h6v1h-6z" fill="#ff0000"/></g>
<g shape-rendering="crispEdges"><rect x="1026" y="105" width="126" height="48" fill="#000"/><rect x="1020.5" y="99.5" width="128" height="50" fill="#fff" stroke="#000" stroke-width="1"/><rect x="1022" y="101" width="125" height="47" fill="#f2f2f2"/><path d="M1026 109h3v1h-3zM1025 110h5v1h-5zM1024 111h7v1h-7zM1024 112h7v1h-7zM1024 113h7v1h-7zM1025 114h5v1h-5zM1026 115h3v1h-3z" fill="#00f"/><path d="M1027 133h1v1h-1zM1026 134h2v1h-2zM1026 135h3v1h-3zM1025 136h4v1h-4zM1025 137h5v1h-5zM1024 138h6v1h-6z" fill="#f00"/></g>
<text transform="translate(1032.6,117) scale(0.972,1)" text-anchor="start" style="font-family:'Liberation Sans',sans-serif;font-weight:bold;text-rendering:geometricPrecision;font-size:19.9px">True Proton</text>
<text transform="translate(1032.7,141.5) scale(0.96,1)" text-anchor="start" style="font-family:'Liberation Sans',sans-serif;font-weight:bold;text-rendering:geometricPrecision;font-size:19.9px">Fake Proton</text>
<text transform="translate(121.8,907.5) scale(0.92,1)" text-anchor="end" style="font-family:'Liberation Sans',sans-serif;font-weight:bold;text-rendering:geometricPrecision;font-size:30.3px">0</text>
<text transform="translate(121.8,827.5) scale(0.92,1)" text-anchor="end" style="font-family:'Liberation Sans',sans-serif;font-weight:bold;text-rendering:geometricPrecision;font-size:30.3px">10</text>
<text transform="translate(121.8,748.5) scale(0.92,1)" text-anchor="end" style="font-family:'Liberation Sans',sans-serif;font-weight:bold;text-rendering:geometricPrecision;font-size:30.3px">20</text>
<text transform="translate(121.8,668.5) scale(0.92,1)" text-anchor="end" style="font-family:'Liberation Sans',sans-serif;font-weight:bold;text-rendering:geometricPrecision;font-size:30.3px">30</text>
<text transform="translate(121.8,588.5) scale(0.92,1)" text-anchor="end" style="font-family:'Liberation Sans',sans-serif;font-weight:bold;text-rendering:geometricPrecision;font-size:30.3px">40</text>
<text transform="translate(121.8,509.5) scale(0.92,1)" text-anchor="end" style="font-family:'Liberation Sans',sans-serif;font-weight:bold;text-rendering:geometricPrecision;font-size:30.3px">50</text>
<text transform="translate(121.8,429.5) scale(0.92,1)" text-anchor="end" style="font-family:'Liberation Sans',sans-serif;font-weight:bold;text-rendering:geometricPrecision;font-size:30.3px">60</text>
<text transform="translate(121.8,349.5) scale(0.92,1)" text-anchor="end" style="font-family:'Liberation Sans',sans-serif;font-weight:bold;text-rendering:geometricPrecision;font-size:30.3px">70</text>
<text transform="translate(121.8,269.5) scale(0.92,1)" text-anchor="end" style="font-family:'Liberation Sans',sans-serif;font-weight:bold;text-rendering:geometricPrecision;font-size:30.3px">80</text>
<text transform="translate(121.8,190.5) scale(0.92,1)" text-anchor="end" style="font-family:'Liberation Sans',sans-serif;font-weight:bold;text-rendering:geometricPrecision;font-size:30.3px">90</text>
<text transform="translate(121.8,110.5) scale(0.92,1)" text-anchor="end" style="font-family:'Liberation Sans',sans-serif;font-weight:bold;text-rendering:geometricPrecision;font-size:30.3px">100</text>
<text transform="translate(329.0,935.6) scale(0.92,1)" text-anchor="middle" style="font-family:'Liberation Sans',sans-serif;font-weight:bold;text-rendering:geometricPrecision;font-size:30.3px">2000</text>
<text transform="translate(531.0,935.6) scale(0.92,1)" text-anchor="middle" style="font-family:'Liberation Sans',sans-serif;font-weight:bold;text-rendering:geometricPrecision;font-size:30.3px">4000</text>
<text transform="translate(733.0,935.6) scale(0.92,1)" text-anchor="middle" style="font-family:'Liberation Sans',sans-serif;font-weight:bold;text-rendering:geometricPrecision;font-size:30.3px">6000</text>
<text transform="translate(935.0,935.6) scale(0.92,1)" text-anchor="middle" style="font-family:'Liberation Sans',sans-serif;font-weight:bold;text-rendering:geometricPrecision;font-size:30.3px">8000</text>
<text transform="translate(1138.0,935.6) scale(0.92,1)" text-anchor="middle" style="font-family:'Liberation Sans',sans-serif;font-weight:bold;text-rendering:geometricPrecision;font-size:30.3px">10000</text>
<text transform="translate(1147.5,970.8) scale(0.894,1)" text-anchor="end" style="font-family:'Liberation Sans',sans-serif;font-weight:bold;text-rendering:geometricPrecision;font-size:31.4px">Long Proton Transverse Momentum / MeV/c</text>
<text transform="translate(48.2,277.8) rotate(-90) scale(0.921,1)" text-anchor="start" style="font-family:'Liberation Sans',sans-serif;font-weight:bold;text-rendering:geometricPrecision;font-size:30px">Efficiency / %</text>
<text x="82.5" y="42" textLength="1110" lengthAdjust="spacingAndGlyphs" style="font-family:'Liberation Sans',sans-serif;font-weight:bold;text-rendering:geometricPrecision;font-size:8.7px">Long Proton ID Eff. V TrackPt | MVAout &gt; 0.125 | All NaturalMix AllPhysTracksInEvent:AllPhysTracksInEvent ReweightRICH2 EvalWithPreSel | Train:HeavyNoGhosts-Eval:MixtureGhosts | TMVA-NoPreSels-CombDLL-NoGECs | MLP Norm BP NCycles750 CE tanh SF1.4 CVTest15:1e-16 !UseReg</text>
</svg></body></html>
